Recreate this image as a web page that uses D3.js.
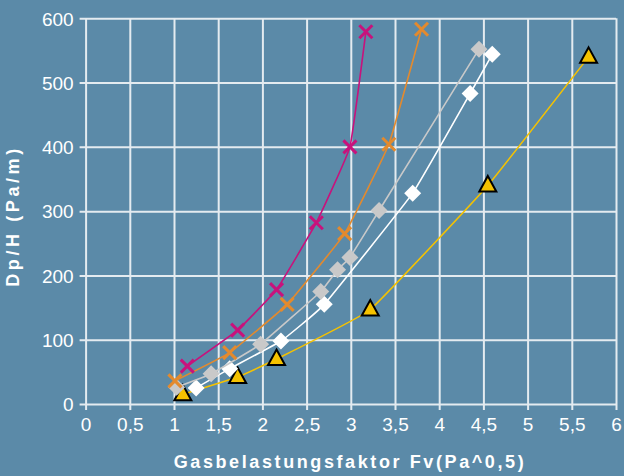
<!DOCTYPE html>
<html>
<head>
<meta charset="utf-8">
<script src="https://cdn.jsdelivr.net/npm/d3@7"></script>
<style>
  html, body { margin: 0; padding: 0; background: #5b8aa8; }
  svg { display: block; }
</style>
</head>
<body>
<svg id="chart"></svg>
<script>
// Data
const xTicks = [0, 0.5, 1, 1.5, 2, 2.5, 3, 3.5, 4, 4.5, 5, 5.5, 6];
const yTicks = [0, 100, 200, 300, 400, 500, 600];

const magentaX = [1.15, 1.72, 2.16, 2.61, 2.99, 3.17];
const magentaY = [59, 115, 178, 282, 400, 579];

const orangeX = [1.01, 1.63, 2.28, 2.93, 3.43, 3.80];
const orangeY = [36, 80, 155, 265, 404, 583];

const grayX = [1.03, 1.42, 1.98, 2.66, 2.85, 2.99, 3.32, 4.45];
const grayY = [26, 47, 93, 175, 209, 228, 301, 552];

const whiteX = [1.25, 1.63, 2.21, 2.70, 3.70, 4.35, 4.60];
const whiteY = [25, 55, 98, 155, 328, 483, 544];

const yellowX = [1.10, 1.72, 2.16, 3.22, 4.55, 5.69];
const yellowY = [15, 42, 70, 147, 340, 540];

const SERIES = [
  { name: 'yellow',  xs: yellowX,  ys: yellowY,  color: '#f5c200', marker: 'triangle' },
  { name: 'white',   xs: whiteX,   ys: whiteY,   color: '#ffffff', marker: 'diamond' },
  { name: 'gray',    xs: grayX,    ys: grayY,    color: '#c9c9c9', marker: 'diamond' },
  { name: 'orange',  xs: orangeX,  ys: orangeY,  color: '#e38a2e', marker: 'cross' },
  { name: 'magenta', xs: magentaX, ys: magentaY, color: '#c8127c', marker: 'cross' },
];

const W = 624, H = 476;
const M = { left: 85.6, right: 8, top: 18.3, bottom: 72 };
const FONT = 'Liberation Sans, Arial, sans-serif';

const svg = d3.select('#chart').attr('width', W).attr('height', H);

// background
svg.append('rect').attr('width', W).attr('height', H).attr('fill', '#5b8aa8');

const x = d3.scaleLinear().domain([0, 6]).range([M.left, W - M.right]);
const y = d3.scaleLinear().domain([0, 600]).range([H - M.bottom, M.top]);

const GRID = '#e4ebf0';
const fmt = d => String(d).replace('.', ',');

// horizontal grid + y axis
const yAxis = svg.append('g')
  .attr('transform', `translate(${x(0)},0)`)
  .call(d3.axisLeft(y).tickValues(yTicks).tickSize(6).tickPadding(6).tickFormat(fmt));
yAxis.select('.domain').remove();
yAxis.selectAll('.tick line').attr('stroke', GRID).attr('stroke-width', 2)
  .attr('x1', -6).attr('x2', x(6) - x(0));
yAxis.selectAll('.tick text')
  .attr('fill', '#ffffff')
  .attr('font-family', FONT)
  .attr('font-size', 19)
  .attr('dy', '0.36em');

// vertical grid + x axis
const xAxis = svg.append('g')
  .attr('transform', `translate(0,${y(0)})`)
  .call(d3.axisBottom(x).tickValues(xTicks).tickSize(6).tickPadding(8).tickFormat(fmt));
xAxis.select('.domain').remove();
xAxis.selectAll('.tick line').attr('stroke', GRID).attr('stroke-width', 2)
  .attr('y1', 6).attr('y2', y(600) - y(0));
xAxis.selectAll('.tick text')
  .attr('fill', '#ffffff')
  .attr('font-family', FONT)
  .attr('font-size', 19);

// axis titles
svg.append('text')
  .attr('x', 350).attr('y', 468)
  .attr('text-anchor', 'middle')
  .attr('fill', '#ffffff')
  .attr('font-family', FONT)
  .attr('font-weight', 'bold')
  .attr('font-size', 18)
  .attr('letter-spacing', 2.6)
  .text('Gasbelastungsfaktor Fv(Pa^0,5)');

svg.append('text')
  .attr('transform', 'translate(19,216) rotate(-90)')
  .attr('text-anchor', 'middle')
  .attr('fill', '#ffffff')
  .attr('font-family', FONT)
  .attr('font-weight', 'bold')
  .attr('font-size', 18)
  .attr('letter-spacing', 3.6)
  .text('Dp/H (Pa/m)');

// series
const line = d3.line()
  .x(d => x(d[0]))
  .y(d => y(d[1]))
  .curve(d3.curveCardinal.tension(0.7));

const plot = svg.append('g');

SERIES.forEach(s => {
  const pts = s.xs.map((v, i) => [v, s.ys[i]]);
  plot.append('path')
    .datum(pts)
    .attr('fill', 'none')
    .attr('stroke', s.color)
    .attr('stroke-width', 1.6)
    .attr('d', line);

  const mk = plot.append('g').selectAll('g')
    .data(pts).enter().append('g')
    .attr('transform', d => `translate(${x(d[0])},${y(d[1])})`);

  if (s.marker === 'cross') {
    mk.append('path')
      .attr('d', 'M-6.5,-6.5L6.5,6.5M-6.5,6.5L6.5,-6.5')
      .attr('stroke', s.color)
      .attr('stroke-width', 3)
      .attr('fill', 'none');
  } else if (s.marker === 'diamond') {
    mk.append('path')
      .attr('d', 'M0,-8.5L8.5,0L0,8.5L-8.5,0Z')
      .attr('fill', s.color);
  } else {
    mk.append('path')
      .attr('d', 'M0,-9.5L8.5,6L-8.5,6Z')
      .attr('fill', s.color)
      .attr('stroke', '#000')
      .attr('stroke-width', 2)
      .attr('stroke-linejoin', 'miter');
  }
});
</script>
</body>
</html>
